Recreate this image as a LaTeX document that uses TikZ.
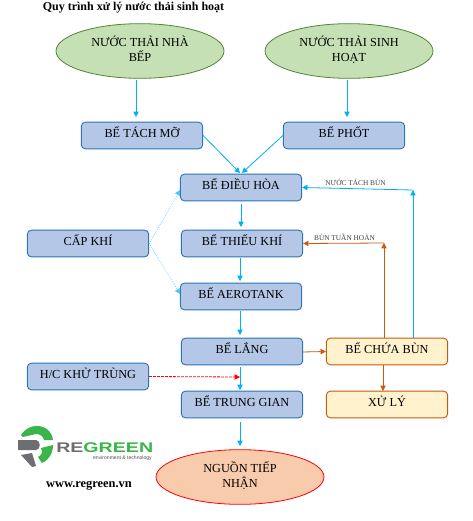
\documentclass[tikz,border=0pt]{standalone}
\usepackage{fontspec}
\setmainfont{Liberation Serif}
\setsansfont{Liberation Sans}
\usepackage{tikz}
\usetikzlibrary{arrows.meta,shapes.geometric}
\definecolor{bluefill}{HTML}{B4C7E7}
\definecolor{blueline}{HTML}{2E75B6}
\definecolor{arrowblue}{HTML}{00B0F0}
\definecolor{greenfill}{HTML}{C5E0B4}
\definecolor{greenline}{HTML}{548235}
\definecolor{creamfill}{HTML}{FFF2CC}
\definecolor{sludgeline}{HTML}{C55A11}
\definecolor{peachfill}{HTML}{F8CBAD}
\definecolor{logogreen}{HTML}{39B54A}
\definecolor{logogray}{HTML}{6D6E71}
\tikzset{
  tank/.style={draw=blueline,fill=bluefill,rounded corners=3pt,line width=0.7pt,minimum width=91pt,minimum height=20pt,inner sep=0pt,text height=7pt,text depth=3.5pt,font=\fontsize{9.2}{11}\selectfont},
  sludgebox/.style={tank,draw=sludgeline,fill=creamfill},
  source/.style={ellipse,draw=greenline,fill=greenfill,line width=0.6pt,minimum width=126pt,minimum height=41pt,inner sep=0pt,align=center,text depth=3pt,font=\fontsize{9.2}{11.3}\selectfont},
  flow/.style={-{Triangle[length=4pt,width=4pt]},arrowblue,line width=0.6pt},
  sludge/.style={flow,sludgeline},
  air/.style={flow,arrowblue!70,line width=0.5pt,densely dotted},
  note/.style={font=\fontsize{5.5}{6}\selectfont,text=black!75,inner sep=0pt},
}
\begin{document}
\begin{tikzpicture}[x=0.75pt,y=-0.75pt]
\useasboundingbox (0,0) rectangle (473,521);
\node[font=\bfseries\fontsize{9}{11}\selectfont,inner sep=0pt] (title) at (133.5,8) {Quy trình xử lý nước thải sinh hoạt};
% inputs
\node[source] (bep) at (140,51) {NƯỚC THẢI NHÀ\\BẾP};
\node[source] (sinhhoat) at (349,51) {NƯỚC THẢI SINH\\HOẠT};
\node[tank] (tachmo) at (142,135.5) {BỂ TÁCH MỠ};
\node[tank] (phot) at (344,135.5) {BỂ PHỐT};
% main line
\node[tank] (dieuhoa) at (241,187.5) {BỂ ĐIỀU HÒA};
\node[tank] (thieukhi) at (242,243.5) {BỂ THIẾU KHÍ};
\node[tank] (aerotank) at (241,296.5) {BỂ AEROTANK};
\node[tank] (lang) at (242,351.5) {BỂ LẮNG};
\node[tank] (trunggian) at (242,404.5) {BỂ TRUNG GIAN};
\node[source,draw=red,fill=peachfill] (nguon) at (240,477) {NGUỒN TIẾP\\NHẬN};
% side boxes
\node[tank] (capkhi) at (88,243.5) {CẤP KHÍ};
\node[tank] (khutrung) at (88,376.5) {H/C KHỬ TRÙNG};
\node[sludgebox] (chuabun) at (387,351.5) {BỂ CHỨA BÙN};
\node[sludgebox] (xuly) at (387,404.5) {XỬ LÝ};
\node[note] (tachbun) at (355.5,182) {NƯỚC TÁCH BÙN};
\node[note] (tuanhoan) at (344.5,237) {BÙN TUẦN HOÀN};
\node[font=\bfseries\fontsize{9.3}{11}\selectfont,inner sep=0pt] (web) at (89,486) {www.regreen.vn};
% arrows
\draw[flow] (136,80) -- (136,117);
\draw[flow] (347,80) -- (347,117);
\draw[flow] (tachmo.east) -- (240,173);
\draw[flow] (phot.west) -- (242,173);
\draw[flow] (241,204) -- (241,227);
\draw[flow] (240,258) -- (240,281);
\draw[flow] (240,311) -- (240,335);
\draw[flow] (240,367) -- (240,390);
\draw[flow] (240,422) -- (240,446);
\draw[air] (capkhi.east) -- (180,190);
\draw[air] (capkhi.east) -- (180,294);
\draw[-{Triangle[length=4pt,width=4pt]},red,dash pattern=on 2pt off 1pt,line width=0.6pt] (khutrung.east) -- (240,377);
\draw[sludge] (302,352) -- (chuabun.west);
\draw[sludge] (383,365) -- (383,391);
\coordinate (bluetop) at (413,190);
\coordinate (orangetop) at (384,243);
\draw[sludge] (orangetop |- chuabun.north) -- (orangetop);
\draw[sludge] (orangetop) -- (thieukhi.east);
\draw[flow] (bluetop |- chuabun.north) -- (bluetop);
\draw[flow] (bluetop) -- (dieuhoa.east);
% logo
\fill[logogreen] (21,435) .. controls (26,428) and (31,426) .. (37,426) .. controls (46,426) and (52,432) .. (53,440) -- (44,440) .. controls (43,436) and (40,434) .. (36,434) -- (23,437) -- cycle;
\fill[logogreen] (53,445) .. controls (53,453) and (49,460) .. (42,463) -- (38,457) .. controls (42,455) and (43,452) .. (41,448) -- cycle;
\fill[logogray] (18,440) -- (36,440) .. controls (41,440) and (41,450) .. (36,450) -- (18,450) -- cycle;
\fill[logogray] (21,455) -- (32,453) -- (36,466) -- (32,467) -- cycle;
\node[inner sep=0pt,anchor=west,font=\sffamily\bfseries\fontsize{10.5}{11}\selectfont,text=logogray] (logore) at (56,448) {\scalebox{1.4}[1]{RE\textcolor{logogreen}{GREEN}}};
\node[inner sep=0pt,anchor=east,font=\sffamily\fontsize{3.8}{4}\selectfont,text=black!70] (logotag) at (152,458) {environment \& technology};
\end{tikzpicture}
\end{document}
